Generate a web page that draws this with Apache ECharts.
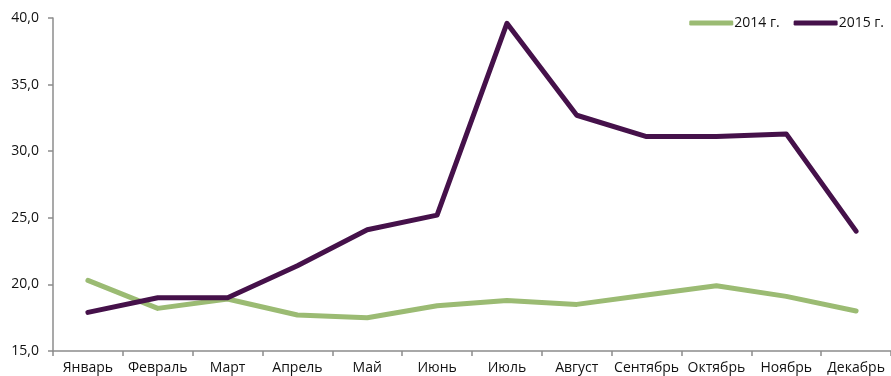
<!DOCTYPE html>
<html>
<head>
<meta charset="utf-8">
<script src="https://cdn.jsdelivr.net/npm/echarts@6/dist/echarts.min.js"></script>
<style>
  html, body { margin: 0; padding: 0; background: #fff; }
  #chart { width: 891px; height: 376px; }
</style>
</head>
<body>
<div id="chart"></div>
<script>
// Monthly values for two years
const months = ['Январь', 'Февраль', 'Март', 'Апрель', 'Май', 'Июнь', 'Июль', 'Август', 'Сентябрь', 'Октябрь', 'Ноябрь', 'Декабрь'];
const values2014 = [20.3, 18.2, 18.9, 17.7, 17.5, 18.4, 18.8, 18.5, 19.2, 19.9, 19.1, 18.0];
const values2015 = [17.9, 19.0, 19.0, 21.4, 24.1, 25.2, 39.6, 32.7, 31.1, 31.1, 31.3, 24.0];
const seriesNames = ['2014 г.', '2015 г.'];
const yMin = 15, yMax = 40, yStep = 5;

const FONT = '"Open Sans", sans-serif';
const TEXT = '#111111';
const AXIS = '#8c8c8c';
const chart = echarts.init(document.getElementById('chart'), null, { renderer: 'canvas' });

chart.setOption({
  animation: false,
  backgroundColor: '#ffffff',
  textStyle: { fontFamily: FONT },
  legend: {
    right: 2,
    top: 11,
    icon: 'roundRect',
    itemWidth: 44,
    itemHeight: 5,
    itemGap: 14,
    textStyle: { fontFamily: FONT, fontSize: 14, color: TEXT, padding: [0, 0, 0, -4] },
    data: seriesNames
  },
  grid: { left: 53, top: 18, width: 842, bottom: 25, containLabel: false },
  xAxis: {
    type: 'category',
    data: months,
    boundaryGap: true,
    axisLine: { lineStyle: { color: AXIS, width: 1.5 } },
    axisTick: { show: true, length: 5, lineStyle: { color: AXIS, width: 1.5 } },
    axisLabel: { interval: 0, margin: 10, fontFamily: FONT, fontSize: 14, color: TEXT },
    splitLine: { show: false }
  },
  yAxis: {
    type: 'value',
    min: yMin,
    max: yMax,
    interval: yStep,
    axisLine: { show: true, lineStyle: { color: AXIS, width: 1.5 } },
    axisTick: { show: true, length: 5, lineStyle: { color: AXIS, width: 1.5 } },
    axisLabel: {
      margin: 14,
      fontFamily: FONT,
      fontSize: 14,
      color: TEXT,
      formatter: v => v.toFixed(1).replace('.', ',')
    },
    splitLine: { show: false }
  },
  series: [
    {
      name: seriesNames[0],
      type: 'line',
      data: values2014,
      symbol: 'none',
      color: '#9bbb73',
      lineStyle: { color: '#9bbb73', width: 5, cap: 'round', join: 'round' }
    },
    {
      name: seriesNames[1],
      type: 'line',
      data: values2015,
      symbol: 'none',
      color: '#45114a',
      lineStyle: { color: '#45114a', width: 5, cap: 'round', join: 'round' }
    }
  ]
});
</script>
</body>
</html>
